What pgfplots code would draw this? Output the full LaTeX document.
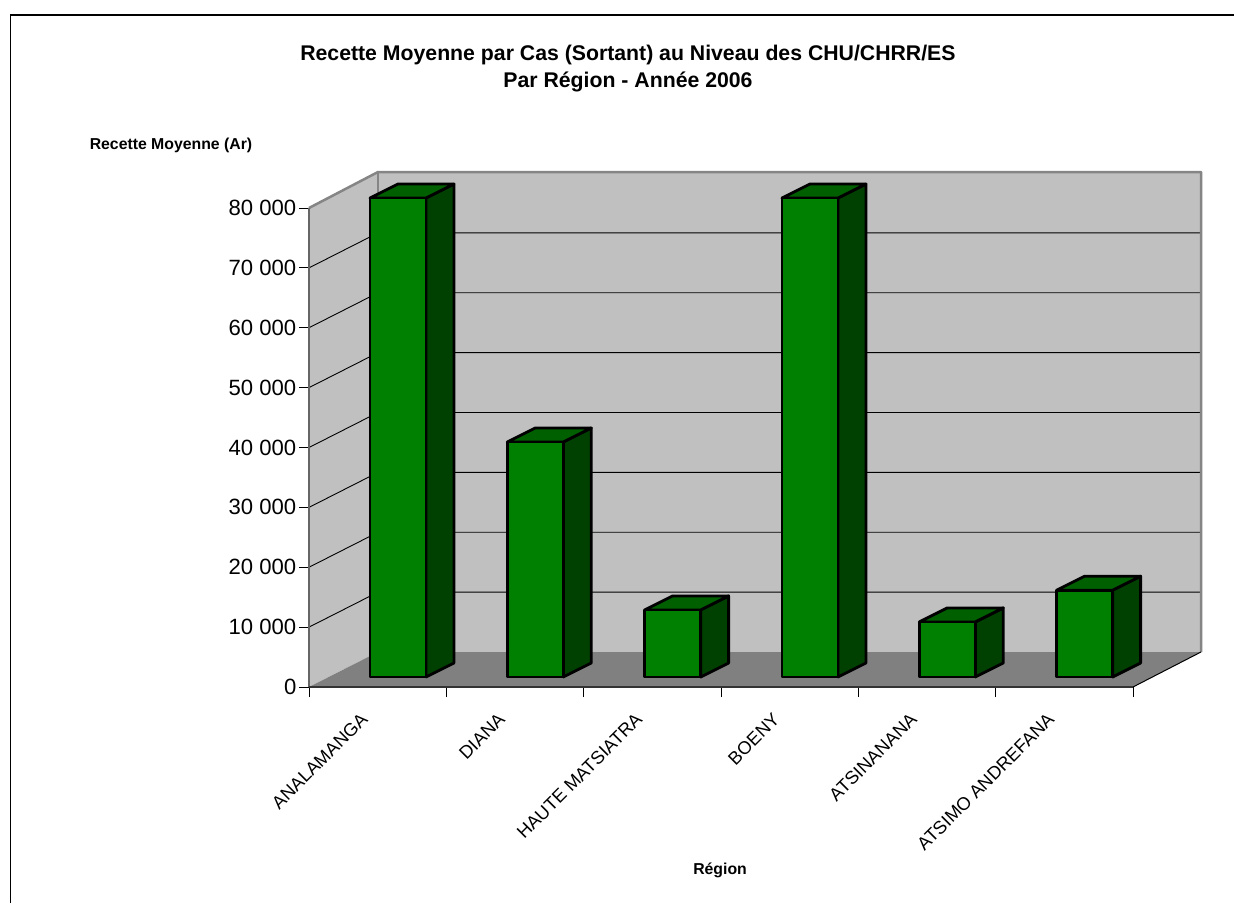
\documentclass[border=0pt]{standalone}
\usepackage{fontspec}
\setmainfont{Liberation Sans}
\usepackage{pgfplots}
\pgfplotsset{compat=1.18}
\definecolor{wall}{HTML}{C0C0C0}
\definecolor{floorc}{HTML}{808080}
\definecolor{edgec}{HTML}{858585}
\definecolor{frontc}{HTML}{008000}
\definecolor{topc}{HTML}{006000}
\definecolor{sidec}{HTML}{004000}
\newcommand\fs[2][1.2]{\fontsize{#2}{#1\dimexpr #2pt\relax}\selectfont}
\pgfplotsset{
 barface/.style={draw=black,line width=2.8pt,line join=round,line cap=round,shift={(20.3pt,10pt)},forget plot},
 gridl/.style={draw=black,line width=0.9pt,forget plot},
}
\newcommand\barfaces[3]{%
 \pgfmathsetmacro\xl{#1-.2039}\pgfmathsetmacro\xr{#1+.2039}\pgfmathsetmacro\xb{#1+.4078}%
 \addplot[barface,fill=sidec] coordinates {(\xr,0) (\xr,#2) (\xb,#3) (\xb,2338) (\xr,0)};
 \addplot[barface,fill=topc] coordinates {(\xl,#2) (\xr,#2) (\xb,#3) (#1,#3) (\xl,#2)};
}
\begin{document}
\begin{tikzpicture}
\useasboundingbox (0,0) rectangle (1234pt,903pt);
\fill[white] (0,0) rectangle (1234pt,903pt);
\draw[line width=1.5pt] (10.5pt,0) -- (10.5pt,888pt) -- (1234pt,888pt);
\begin{axis}[
 at={(309pt,216pt)},anchor=south west,
 scale only axis,width=892pt,height=515pt,
 xmin=0,xmax=6.4954,ymin=0,ymax=86013,
 axis x line*=bottom,axis y line*=left,
 axis line style={draw=none},
 clip=false,
 tick align=outside,major tick length=10pt,
 tick style={black,line width=0.9pt},
 xtick={0,1,2,3,4,5,6},xticklabels={},
 extra x ticks={0.5,1.5,2.5,3.5,4.5,5.5},
 extra x tick labels={ANALAMANGA,DIANA,HAUTE MATSIATRA,BOENY,ATSINANANA,ATSIMO ANDREFANA},
 extra x tick style={major tick length=0pt,tick style={draw=none},
   tick label style={font=\fs{18.2},rotate=45,anchor=east,inner sep=0pt,xshift=-30.2pt,yshift=-11.4pt}},
 ytick={0,10000,20000,30000,40000,50000,60000,70000,80000},
 scaled y ticks=false,
 yticklabel style={font=\fs{22.1},inner sep=0pt,xshift=-2.5pt,
   /pgf/number format/.cd,fixed,1000 sep={\ },assume math mode=true},
 title={Recette Moyenne par Cas (Sortant) au Niveau des CHU/CHRR/ES\\Par Région - Année 2006},
 title style={at={(0.3576,1.19)},anchor=center,align=center,font=\fs[1.27]{21.25}\bfseries,inner sep=0pt},
 xlabel={Région},
 xlabel style={at={(0.4608,-0.3553)},anchor=center,font=\fs{15.8}\bfseries,inner sep=0pt},
 ylabel={Recette Moyenne (Ar)},
 ylabel style={at={(-0.1547,1.0517)},rotate=-90,anchor=center,font=\fs{15.8}\bfseries,inner sep=0pt},
]
% walls and floor
\addplot[fill=wall,draw=none,forget plot] coordinates {(0,0) (0.5024,5845) (0.5024,86013) (0,80000) (0,0)};
\addplot[fill=wall,draw=none,forget plot] coordinates {(0.5024,5845) (6.4954,5845) (6.4954,86013) (0.5024,86013) (0.5024,5845)};
\addplot[fill=floorc,draw=none,forget plot] coordinates {(0,0) (0.5024,5845) (6.4954,5845) (6,0) (0,0)};
% gridlines
\addplot[gridl] coordinates {(0,10000) (0.5024,15845) (6.4954,15845)};
\addplot[gridl] coordinates {(0,20000) (0.5024,25845) (6.4954,25845)};
\addplot[gridl] coordinates {(0,30000) (0.5024,35845) (6.4954,35845)};
\addplot[gridl] coordinates {(0,40000) (0.5024,45845) (6.4954,45845)};
\addplot[gridl] coordinates {(0,50000) (0.5024,55845) (6.4954,55845)};
\addplot[gridl] coordinates {(0,60000) (0.5024,65845) (6.4954,65845)};
\addplot[gridl] coordinates {(0,70000) (0.5024,75845) (6.4954,75845)};
% wall edges
\addplot[draw=edgec,line width=2.5pt,line join=round,forget plot] coordinates {(0,80000) (0.5024,86013) (6.4954,86013) (6.4954,5845)};
\addplot[draw=edgec,line width=2pt,forget plot] coordinates {(0.5024,5845) (0.5024,86013)};
\addplot[draw=black!60,line width=2pt,forget plot] coordinates {(0,0) (0,80000)};
\addplot[draw=black,line width=1pt,forget plot] coordinates {(6,0) (6.4954,5845)};
\addplot[draw=black!80,line width=2.4pt,forget plot] coordinates {(0,0) (6,0)};
% bars
\barfaces{0.5}{80000}{82338}
\barfaces{1.5}{39250}{41588}
\barfaces{2.5}{11200}{13538}
\barfaces{3.5}{80000}{82338}
\barfaces{4.5}{9200}{11538}
\barfaces{5.5}{14500}{16838}
\addplot[ybar,bar width=56pt,bar shift=0pt,barface,fill=frontc] coordinates {(0.5,80000) (1.5,39250) (2.5,11200) (3.5,80000) (4.5,9200) (5.5,14500)};
\end{axis}
\end{tikzpicture}
\end{document}
